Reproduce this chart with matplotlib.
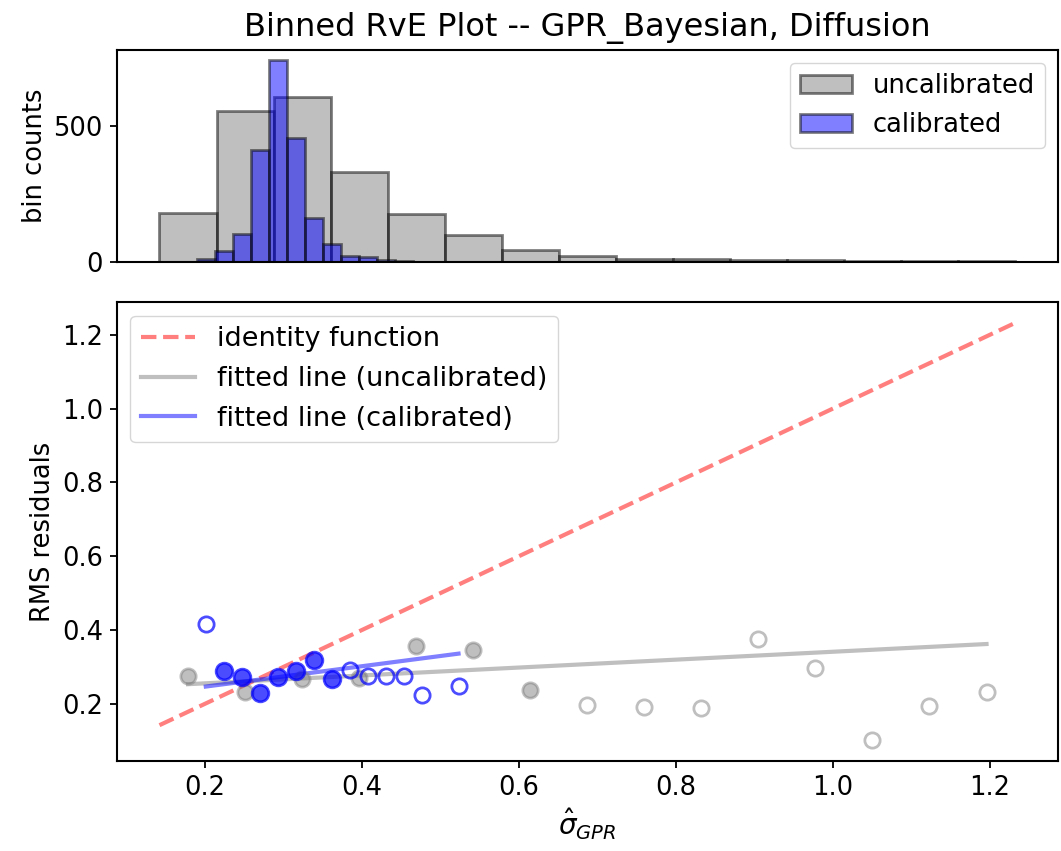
import numpy as np
import matplotlib
matplotlib.use("Agg")
import matplotlib.pyplot as plt

# ---- histogram of predicted uncertainties ----
uncal_edges = np.linspace(0.142, 1.232, 16)
uncal_counts = [180, 552, 605, 329, 176, 98, 43, 21, 11, 11, 9, 6, 4, 4, 4]
cal_edges = np.linspace(0.1895, 0.5345, 16)
cal_counts = [10, 40, 104, 411, 739, 455, 160, 65, 22, 19, 7, 5, 2, 0, 1]

# ---- binned RMS residuals ----
uncal_rms = [0.276, 0.232, 0.266, 0.271, 0.356, 0.347, 0.236, 0.196, 0.190,
             0.189, 0.376, 0.296, 0.102, 0.193, 0.231]
cal_rms = [0.415, 0.288, 0.273, 0.230, 0.273, 0.288, 0.318, 0.266, 0.291,
           0.275, 0.275, 0.275, 0.225, np.nan, 0.247]

# fitted lines: intercept, slope
uncal_fit = (0.234, 0.107)
cal_fit = (0.191, 0.277)

min_count = 30

plt.rcParams['font.family'] = ['DejaVu Sans']
plt.rcParams['font.size'] = 18
plt.rcParams['xtick.labelsize'] = 18.5
plt.rcParams['ytick.labelsize'] = 18.5
plt.rcParams['xtick.major.size'] = 5
plt.rcParams['ytick.major.size'] = 5
plt.rcParams['xtick.major.pad'] = 5
plt.rcParams['ytick.major.pad'] = 5
plt.rcParams['xtick.major.width'] = 1.3
plt.rcParams['ytick.major.width'] = 1.3
plt.rcParams['axes.linewidth'] = 1.5

fig = plt.figure(figsize=(10.61, 8.51), dpi=100)
ax_h = fig.add_axes([0.110, 0.692, 0.887, 0.249])
ax = fig.add_axes([0.110, 0.106, 0.887, 0.539], sharex=ax_h)

uncal_w = np.diff(uncal_edges)
cal_w = np.diff(cal_edges)
ax_h.bar(uncal_edges[:-1], uncal_counts, width=uncal_w, align='edge',
         color='gray', alpha=0.5, edgecolor='black', linewidth=2,
         label='uncalibrated')
ax_h.bar(cal_edges[:-1], cal_counts, width=cal_w, align='edge',
         color='blue', alpha=0.5, edgecolor='black', linewidth=2,
         label='calibrated')
ax_h.set_ylabel('bin counts', fontsize=18.5)
ax_h.set_yticks([0, 500])
ax_h.tick_params(axis='x', labelbottom=False, bottom=False)
ax_h.legend(loc='upper right', fontsize=18.5)
ax_h.set_title('Binned RvE Plot -- GPR_Bayesian, Diffusion', fontsize=23, pad=10)

uncal_x = 0.5 * (uncal_edges[:-1] + uncal_edges[1:])
cal_x = 0.5 * (cal_edges[:-1] + cal_edges[1:])
uncal_counts_a = np.array(uncal_counts)
cal_counts_a = np.array(cal_counts)
uncal_rms_a = np.array(uncal_rms)
cal_rms_a = np.array(cal_rms)

# identity line across the full range of uncertainties
lo, hi = uncal_edges[0], uncal_edges[-1]
ax.plot([lo, hi], [lo, hi], '--', color='red', alpha=0.5, linewidth=3,
        label='identity function')

xs = np.array([uncal_x[0], uncal_x[-1]])
ax.plot(xs, uncal_fit[0] + uncal_fit[1] * xs, '-', color='gray', alpha=0.5,
        linewidth=3, label='fitted line (uncalibrated)')
xs = np.array([cal_x[0], cal_x[-1]])
ax.plot(xs, cal_fit[0] + cal_fit[1] * xs, '-', color='blue', alpha=0.5,
        linewidth=3, label='fitted line (calibrated)')

m = uncal_counts_a >= min_count
ax.plot(uncal_x[m], uncal_rms_a[m], 'o', color='gray', alpha=0.5,
        markersize=11, markeredgewidth=2)
ax.plot(uncal_x[~m], uncal_rms_a[~m], 'o', markerfacecolor='none',
        markeredgecolor='gray', alpha=0.5, markersize=11, markeredgewidth=2)

m = cal_counts_a >= min_count
ax.plot(cal_x[m], cal_rms_a[m], 'o', color='blue', alpha=0.7,
        markersize=12, markeredgewidth=2)
ax.plot(cal_x[~m], cal_rms_a[~m], 'o', markerfacecolor='none',
        markeredgecolor='blue', alpha=0.7, markersize=11, markeredgewidth=2)

ax.set_ylabel('RMS residuals', fontsize=18.5)
ax.set_xlabel(r'$\hat{\sigma}_{GPR}$', fontsize=20)
ax.set_xticks([0.2, 0.4, 0.6, 0.8, 1.0, 1.2])
ax.set_yticks([0.2, 0.4, 0.6, 0.8, 1.0, 1.2])
ax.legend(loc='upper left', fontsize=19.5)

fig.savefig('out.png', dpi=100)
